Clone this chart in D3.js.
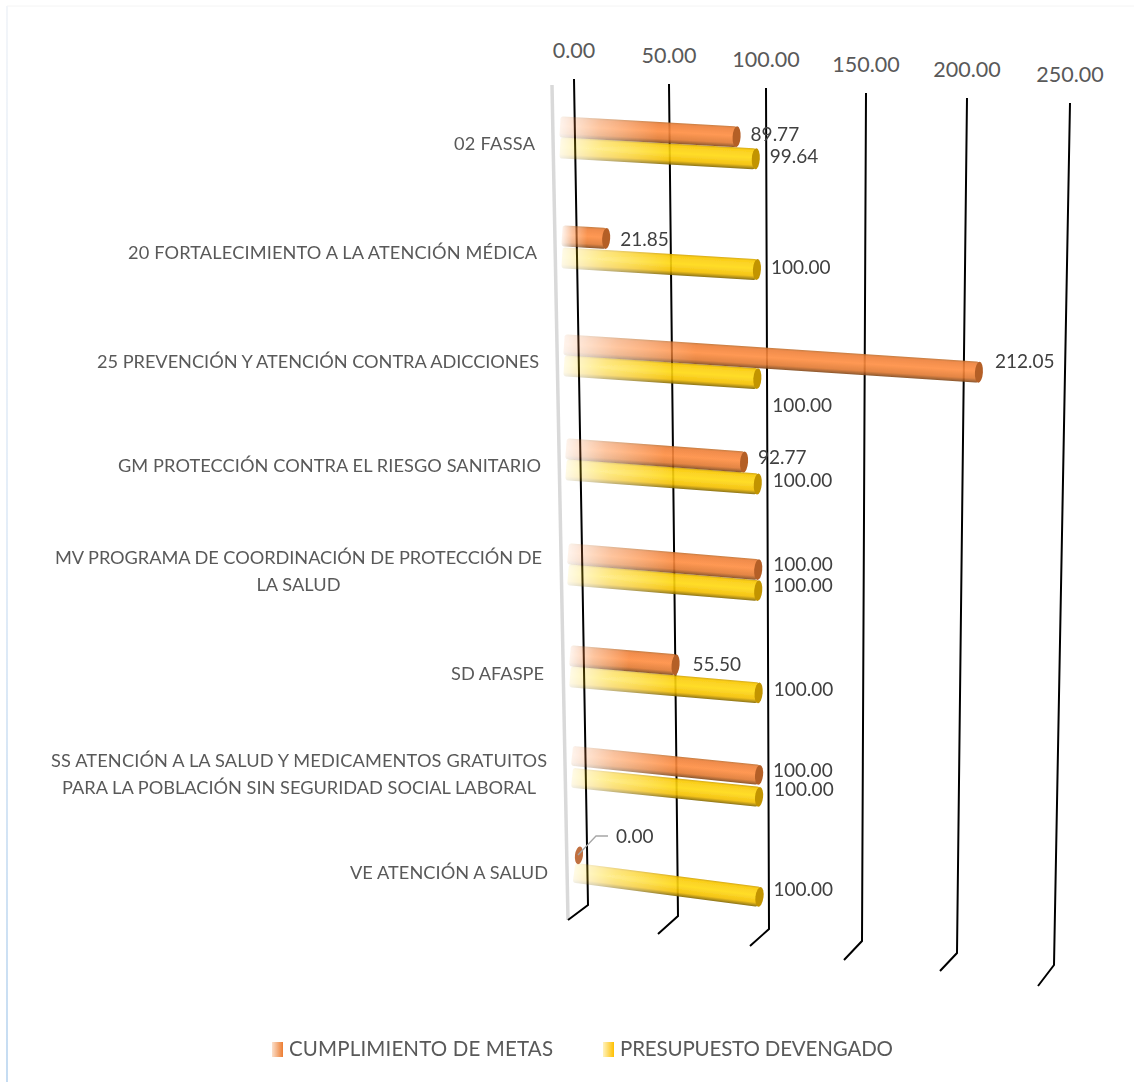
<!DOCTYPE html>
<html><head><meta charset="utf-8">
<script src="https://cdn.jsdelivr.net/npm/d3@7"></script>
<style>html,body{margin:0;padding:0;background:#fff}svg{display:block}text{font-family:Lato,Carlito,sans-serif}</style>
</head><body><svg id="c" width="1142" height="1082"></svg>
<script>
const categories=[["02 FASSA"],["20 FORTALECIMIENTO A LA ATENCIÓN MÉDICA"],["25 PREVENCIÓN Y ATENCIÓN CONTRA ADICCIONES"],["GM PROTECCIÓN CONTRA EL RIESGO SANITARIO"],["MV PROGRAMA DE COORDINACIÓN DE PROTECCIÓN DE","LA SALUD"],["SD AFASPE"],["SS ATENCIÓN A LA SALUD Y MEDICAMENTOS GRATUITOS","PARA LA POBLACIÓN SIN SEGURIDAD SOCIAL LABORAL"],["VE ATENCIÓN A SALUD"]];
const metas=[89.77,21.85,212.05,92.77,100,55.5,100,0];
const presupuesto=[99.64,100,100,100,100,100,100,100];
const axisTicks=[0,50,100,150,200,250];
const seriesNames=["CUMPLIMIENTO DE METAS","PRESUPUESTO DEVENGADO"];

// layout of the projected 3-D box
const rows=d3.range(8);
const gridTopX=d3.scaleLinear(axisTicks,[574,669,766,866,967,1070]);
const gridTopY=d3.scaleLinear(axisTicks,[79,84,88,93,98,103]);
const gridBotX=d3.scaleLinear(axisTicks,[588,678,769,862,957,1054]);
const gridBotY=d3.scaleLinear(axisTicks,[905,916,929,941,953,965]);
const gridFootX=d3.scaleLinear(axisTicks,[568,658,750,844,940,1038]);
const gridFootY=d3.scaleLinear(axisTicks,[920,934,946,960,971,986]);
const rowY=d3.scaleLinear(rows,[127,236,345,449,554,656,756,855]);
const rowGap=d3.scaleLinear(rows,[21,22,21,21,21,21,22,18]);
const rowSlope=d3.scaleLinear(rows,[.056,.06,.066,.074,.083,.085,.102,.13]);
const rowLeft=d3.scaleLinear([0,7],[562,576]);
const rowSpan=d3.scaleLinear([0,7],[194.5,183.5]);
const depth=d3.scaleLinear([0,100,250],[0,1,2.55]);
const labelRight=d3.scaleLinear(rows,[535,537,539,541,542,544,547,548]);
const labelMidY=[144,253,362,466,571,674,774,873];
const labelWidths=[[81],[409],[442],[423],[487,84],[93],[496,474],[198]];
const metasOffset=[[14,-2],[14,1],[16,-11],[14,-5],[15,-5],[17,0],[14,-5],[40,-19]];
const presOffset=[[14,-3],[14,-2],[15,27],[15,-4],[15,-5],[15,-4],[15,-8],[14,-8]];

const svg=d3.select("#c"),defs=svg.append("defs");
defs.append("filter").attr("id","soft").attr("x","-5%").attr("y","-30%").attr("width","110%").attr("height","160%")
 .append("feGaussianBlur").attr("stdDeviation",.45);
// frame
svg.append("line").attr("x1",7).attr("x2",1134).attr("y1",6).attr("y2",6).attr("stroke","#f4f4f4");
const fg=defs.append("linearGradient").attr("id","frameFade").attr("x1",0).attr("x2",0).attr("y1",0).attr("y2",1);
fg.append("stop").attr("offset",0).attr("stop-color","#f2f5f9");
fg.append("stop").attr("offset",.5).attr("stop-color","#e3edf8");
fg.append("stop").attr("offset",1).attr("stop-color","#c5dcf2");
svg.append("rect").attr("x",6).attr("y",6).attr("width",2).attr("height",1076).attr("fill","url(#frameFade)");

// wall
svg.append("path").attr("d",d3.line()([[552,85],[568,920]])).attr("stroke","#d9d9d9").attr("stroke-width",3.5).attr("fill","none");
// gridlines
svg.append("g").selectAll("path").data(axisTicks).join("path")
 .attr("d",t=>d3.line()([[gridTopX(t),gridTopY(t)],[gridBotX(t),gridBotY(t)],[gridFootX(t),gridFootY(t)]]))
 .attr("fill","none").attr("stroke","#000").attr("stroke-width",2);
// axis labels
svg.append("g").selectAll("text").data(axisTicks).join("text")
 .attr("x",t=>gridTopX(t)).attr("y",t=>gridTopY(t)-21).attr("text-anchor","middle")
 .attr("font-size",21.5).attr("fill","#595959").text(t=>d3.format(".2f")(t));

// cylinder shading across the bar
const palettes=[
 {id:"o",stops:[[0,"#c0702f"],[.1,"#ee7f38"],[.45,"#ff8d40"],[.8,"#e07830"],[1,"#7d4518"]],cap:"#b45f28"},
 {id:"y",stops:[[0,"#d0a005"],[.1,"#fac905"],[.45,"#ffd910"],[.8,"#f3bd00"],[1,"#806505"]],cap:"#c29400"}
];
palettes.forEach(p=>{
 const g=defs.append("linearGradient").attr("id","shade"+p.id).attr("x1",0).attr("x2",0).attr("y1",0).attr("y2",1);
 p.stops.forEach(s=>g.append("stop").attr("offset",s[0]).attr("stop-color",s[1]));
});
function barGeom(v,r,s){
 const x0=rowLeft(r),y0=rowY(r)+(s?rowGap(r):0),sl=rowSlope(r);
 const x1=x0+rowSpan(r)*depth(v),y1=y0+sl*(x1-x0);
 return {x0,y0,x1,y1,len:Math.hypot(x1-x0,y1-y0),ang:Math.atan(sl)*180/Math.PI};
}
const barsG=svg.append("g").attr("filter","url(#soft)");
function drawBar(v,r,s){
 const g=barGeom(v,r,s),p=palettes[s],H=r>5?20:21;
 const o=barsG.append("g").attr("transform",`translate(${g.x0},${g.y0}) rotate(${g.ang})`);
 if(v===0){
  o.append("ellipse").attr("cx",3).attr("rx",4).attr("ry",9).attr("fill","#c07040");return;
 }
 const fade=Math.min(g.len*.55,130),id=`m${s}_${r}`;
 const lg=defs.append("linearGradient").attr("id",id+"g").attr("gradientUnits","userSpaceOnUse").attr("x1",-2).attr("x2",fade).attr("y1",0).attr("y2",0);
 lg.append("stop").attr("offset",0).attr("stop-color","#fff").attr("stop-opacity",.1);
 lg.append("stop").attr("offset",.4).attr("stop-color","#fff").attr("stop-opacity",.5);
 lg.append("stop").attr("offset",1).attr("stop-color","#fff").attr("stop-opacity",.9);
 const m=defs.append("mask").attr("id",id).attr("maskUnits","userSpaceOnUse").attr("x",-10).attr("y",-15).attr("width",g.len+20).attr("height",30);
 m.append("rect").attr("x",-10).attr("y",-15).attr("width",g.len+20).attr("height",30).attr("fill",`url(#${id}g)`);
 o.append("rect").attr("x",-2).attr("y",-H/2).attr("rx",3).attr("width",g.len+2).attr("height",H)
  .attr("fill",`url(#shade${p.id})`).attr("mask",`url(#${id})`);
 o.append("ellipse").attr("cx",g.len).attr("rx",4).attr("ry",H/2).attr("fill",p.cap);
}
rows.forEach(r=>{drawBar(presupuesto[r],r,1);});
rows.forEach(r=>{drawBar(metas[r],r,0);});

// data labels
const labelG=svg.append("g").attr("font-size",19).attr("fill","#404040");
[[metas,metasOffset,0],[presupuesto,presOffset,1]].forEach(([vals,off,s])=>{
 rows.forEach(r=>{
  const g=barGeom(vals[r],r,s);
  labelG.append("text").attr("x",g.x1+off[r][0]).attr("y",g.y1+off[r][1]).attr("dy","0.35em").text(d3.format(".2f")(vals[r]));
 });
});
// leader for the zero label
const z=barGeom(0,7,0);
svg.append("path").attr("d",d3.line()([[z.x1+2,z.y0],[z.x1+20,z.y0-19],[z.x1+32,z.y0-19]])).attr("fill","none").attr("stroke","#a6a6a6").attr("stroke-width",1.3);

// category labels
const catG=svg.append("g").attr("font-size",18.2).attr("fill","#595959");
categories.forEach((lines,r)=>{
 const cx=labelRight(r)-labelWidths[r][0]/2;
 lines.forEach((l,i)=>{
  catG.append("text").attr("x",cx-labelWidths[r][i]/2).attr("y",labelMidY[r]+(i-(lines.length-1)/2)*26.5).attr("dy","0.35em")
   .attr("textLength",labelWidths[r][i]).text(l);
 });
});

// legend
const legendX=[272,603],legendW=[264,273];
seriesNames.forEach((n,i)=>{
 const lg=defs.append("linearGradient").attr("id","leg"+i);
 lg.append("stop").attr("offset",0).attr("stop-color",i?"#fff3c0":"#fbe0cc");
 lg.append("stop").attr("offset",1).attr("stop-color",i?"#ffc000":"#ed7d31");
 svg.append("rect").attr("x",legendX[i]).attr("y",1042).attr("width",11).attr("height",15).attr("fill",`url(#leg${i})`);
 svg.append("text").attr("x",legendX[i]+17).attr("y",1056).attr("font-size",20.5).attr("fill","#595959").attr("textLength",legendW[i]).text(n);
});
</script></body></html>
